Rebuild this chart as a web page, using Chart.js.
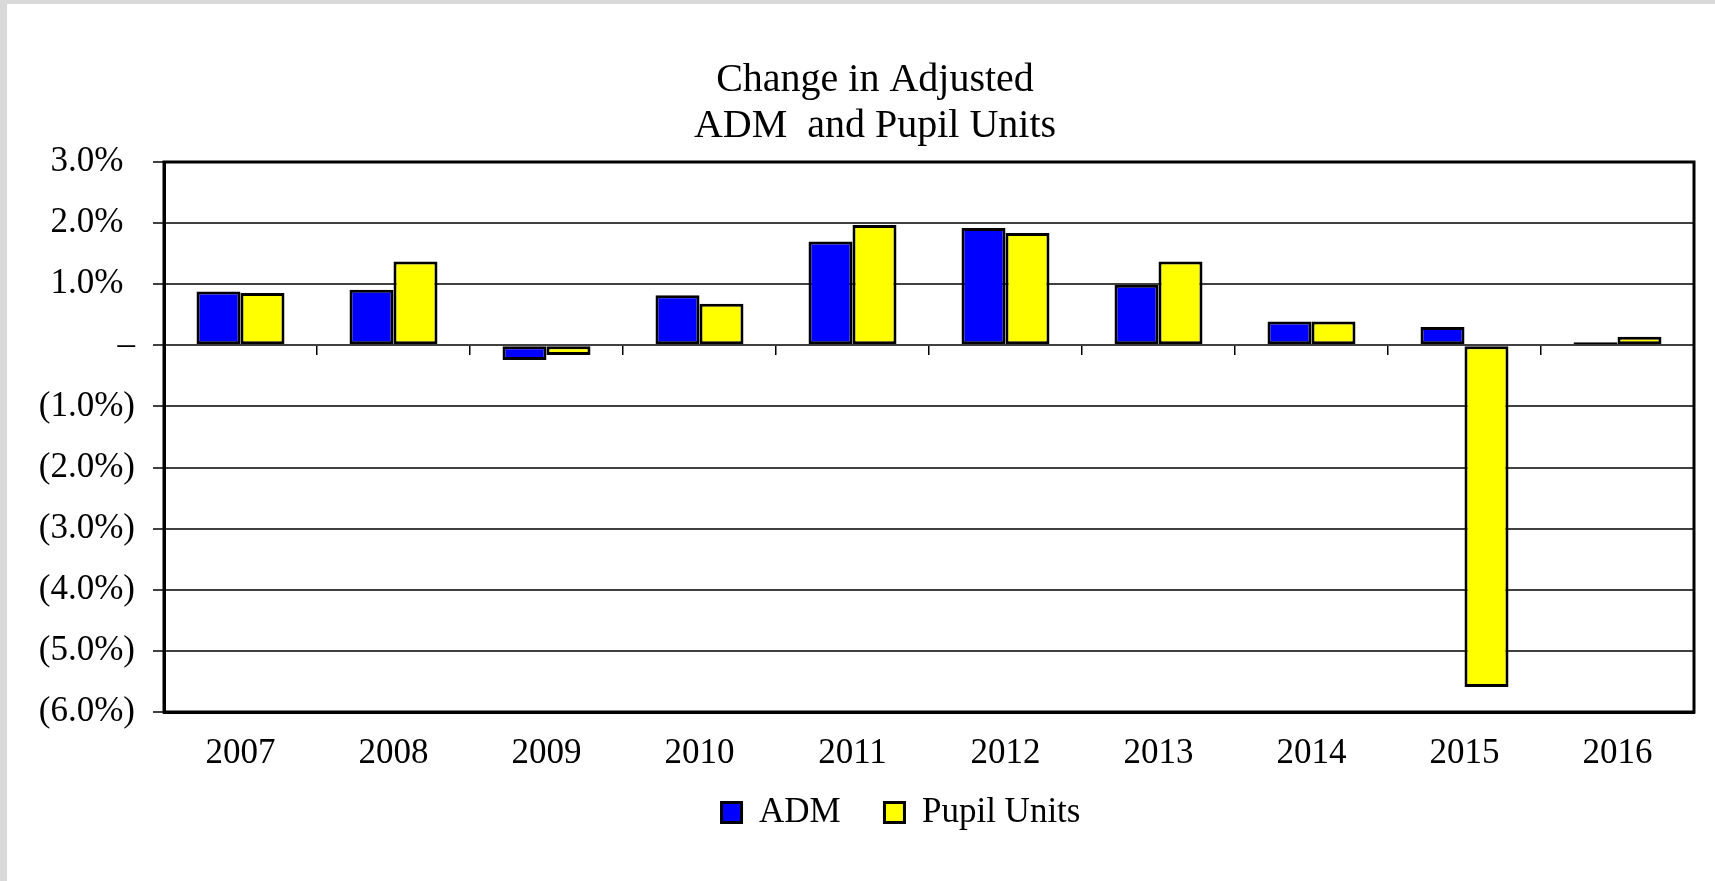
<!DOCTYPE html>
<html>
<head>
<meta charset="utf-8">
<script src="https://cdn.jsdelivr.net/npm/chart.js@4.4.1/dist/chart.umd.min.js"></script>
<style>
  html, body { margin: 0; padding: 0; background: #ffffff; }
  #wrap { position: relative; width: 1715px; height: 881px; overflow: hidden; }
  #stripL { position: absolute; left: 0; top: 0; width: 7px; height: 881px; background: #d9d9d9; }
  #stripT { position: absolute; left: 0; top: 0; width: 1715px; height: 4px; background: #d9d9d9; }
  #c { position: absolute; left: 0; top: 0; }
</style>
</head>
<body>
<div id="wrap">
  <div id="stripL"></div>
  <div id="stripT"></div>
  <canvas id="c" width="1715" height="881"></canvas>
</div>
<script>
const categories = ['2007', '2008', '2009', '2010', '2011', '2012', '2013', '2014', '2015', '2016'];
const admValues = [0.88, 0.91, -0.24, 0.82, 1.70, 1.92, 0.99, 0.39, 0.30, 0.05];
const pupilUnitsValues = [0.855, 1.37, -0.16, 0.68, 1.97, 1.84, 1.37, 0.39, -5.59, 0.14];
const titleLines = ['Change in Adjusted', 'ADM  and Pupil Units'];
const seriesNames = ['ADM', 'Pupil Units'];
const yMin = -6, yMax = 3, yStep = 1;

function yLabel(v) {
  if (Math.abs(v) < 1e-9) return '\u2013';
  if (v > 0) return v.toFixed(1) + '%' + ' \u200A';
  return '(' + Math.abs(v).toFixed(1) + '%)';
}

const framePlugin = {
  id: 'frame',
  afterLayout(chart) {
    // nudge title and legend blocks horizontally to match the original placement
    if (chart.titleBlock) { chart.titleBlock.left += 9; chart.titleBlock.right += 9; }
    if (chart.legend) { chart.legend.left += 35; chart.legend.right += 35; }
  },
  afterDraw(chart) {
    const a = chart.chartArea, ctx = chart.ctx;
    ctx.save();
    ctx.strokeStyle = '#000';
    ctx.lineWidth = 3;
    ctx.strokeRect(a.left, a.top, a.right - a.left, a.bottom - a.top);
    ctx.restore();
  }
};

const serif = 'Liberation Serif, "Times New Roman", serif';

new Chart(document.getElementById('c'), {
  type: 'bar',
  data: {
    labels: categories,
    datasets: [
      { label: seriesNames[0], data: admValues, backgroundColor: '#0000ff', borderColor: '#000', borderWidth: 3, borderSkipped: false },
      { label: seriesNames[1], data: pupilUnitsValues, backgroundColor: '#ffff00', borderColor: '#000', borderWidth: 3, borderSkipped: false }
    ]
  },
  options: {
    responsive: false,
    animation: false,
    devicePixelRatio: 1,
    layout: { padding: { left: 38, right: 21, top: 57, bottom: 41 } },
    datasets: { bar: { categoryPercentage: 0.575, barPercentage: 1.0 } },
    plugins: {
      title: {
        display: true,
        text: titleLines,
        color: '#000',
        font: { family: serif, size: 40, weight: 'normal', lineHeight: 1.15 },
        padding: { top: 0, bottom: 13 }
      },
      legend: {
        display: true,
        position: 'bottom',
        labels: {
          color: '#000',
          font: { family: serif, size: 35 },
          boxWidth: 20,
          boxHeight: 20,
          padding: 0,
          generateLabels(chart) {
            return chart.data.datasets.map((ds, i) => ({
              text: i === 0 ? ds.label + '\u2003 ' : ds.label,
              fillStyle: ds.backgroundColor,
              strokeStyle: '#000',
              lineWidth: 3,
              datasetIndex: i,
              hidden: false
            }));
          }
        }
      },
      tooltip: { enabled: false }
    },
    scales: {
      x: {
        type: 'category',
        position: 'bottom',
        offset: true,
        grid: { display: false, drawTicks: false },
        border: { display: true, color: '#000', width: 3 },
        ticks: { color: '#000', font: { family: serif, size: 35, lineHeight: 1.0 }, padding: 24, maxRotation: 0, autoSkip: false }
      },
      xz: {
        type: 'category',
        labels: categories,
        position: { y: 0 },
        offset: true,
        grid: { display: true, offset: true, drawOnChartArea: false, drawTicks: true, tickLength: 10, color: '#000', lineWidth: 1.5 },
        border: { display: false },
        ticks: { display: false }
      },
      y: {
        min: yMin,
        max: yMax,
        ticks: { stepSize: yStep, color: '#000', font: { family: serif, size: 35 }, padding: 18, callback: (v) => yLabel(v) },
        grid: { color: '#404040', lineWidth: 2, tickLength: 11, tickColor: '#000', tickWidth: 1.5 },
        border: { display: true, color: '#000', width: 3 },
        afterFit(scale) { scale.width = 126; }
      }
    }
  },
  plugins: [framePlugin]
});
</script>
</body>
</html>
